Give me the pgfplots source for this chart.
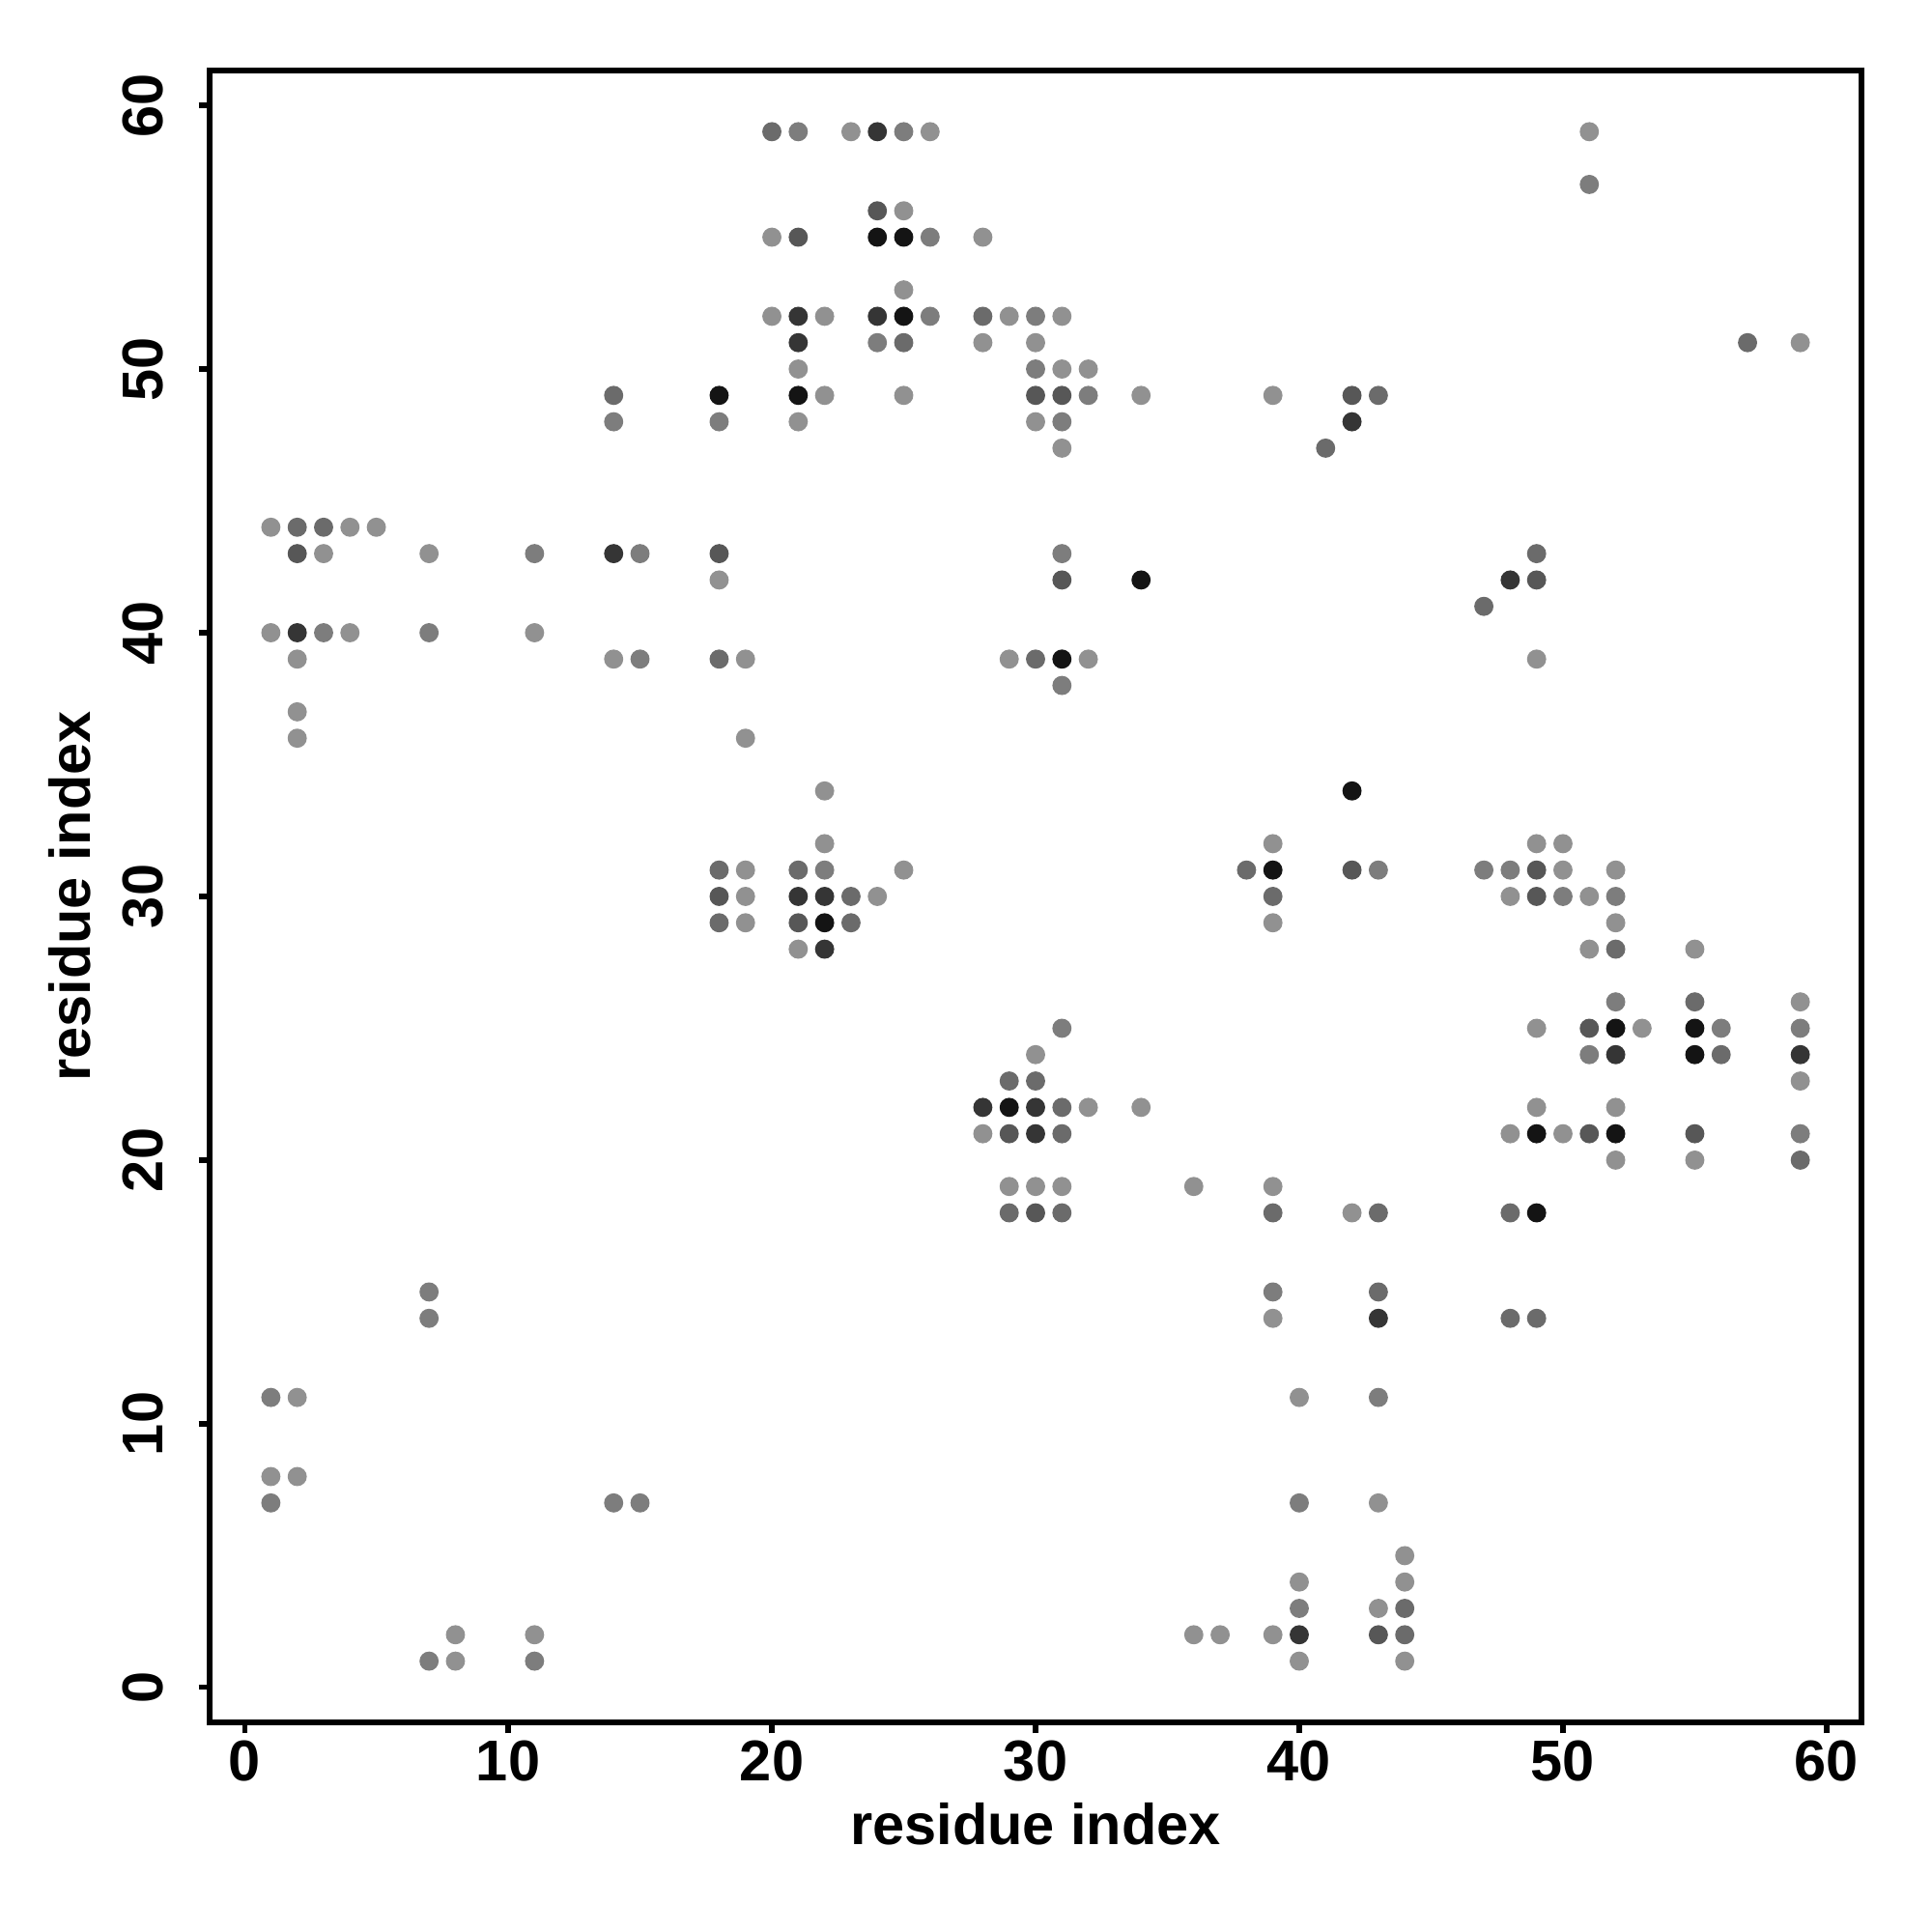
\documentclass[border=0pt]{standalone}
\usepackage{fontspec}
\setmainfont{Liberation Sans}
\usepackage{pgfplots}
\pgfplotsset{compat=1.18}
\usepackage{pgfplotstable}
\pgfplotstableread{
x y c
20 59 3
21 59 2
23 59 1
24 59 5
25 59 2
26 59 1
51 59 1
51 57 2
24 56 4
25 56 1
20 55 1
21 55 4
24 55 6
25 55 6
26 55 2
28 55 1
25 53 1
20 52 1
21 52 5
22 52 1
24 52 5
25 52 6
26 52 2
28 52 3
29 52 1
30 52 2
31 52 1
21 51 5
24 51 2
25 51 3
28 51 1
30 51 1
57 51 3
59 51 1
21 50 1
30 50 2
31 50 1
32 50 1
14 49 3
18 49 6
21 49 6
22 49 1
25 49 1
30 49 4
31 49 4
32 49 2
34 49 1
39 49 1
42 49 4
43 49 3
14 48 2
18 48 2
21 48 1
30 48 1
31 48 2
42 48 5
31 47 1
41 47 3
1 44 1
2 44 3
3 44 3
4 44 1
5 44 1
2 43 4
3 43 1
7 43 1
11 43 2
14 43 5
15 43 2
18 43 4
31 43 2
49 43 3
18 42 1
31 42 4
34 42 6
48 42 5
49 42 4
47 41 3
1 40 1
2 40 5
3 40 2
4 40 1
7 40 2
11 40 1
2 39 1
14 39 1
15 39 2
18 39 3
19 39 1
29 39 1
30 39 3
31 39 6
32 39 1
49 39 1
31 38 2
2 37 1
2 36 1
19 36 1
22 34 1
42 34 6
22 32 1
39 32 1
49 32 1
50 32 1
18 31 3
19 31 1
21 31 3
22 31 2
25 31 1
38 31 3
39 31 6
42 31 4
43 31 2
47 31 2
48 31 2
49 31 4
50 31 1
52 31 1
18 30 4
19 30 1
21 30 5
22 30 5
23 30 3
24 30 1
39 30 3
48 30 1
49 30 4
50 30 2
51 30 1
52 30 2
18 29 3
19 29 1
21 29 4
22 29 6
23 29 3
39 29 1
52 29 1
21 28 1
22 28 5
51 28 1
52 28 3
55 28 1
52 26 2
55 26 3
59 26 1
31 25 2
49 25 1
51 25 4
52 25 6
53 25 1
55 25 6
56 25 2
59 25 2
30 24 1
51 24 2
52 24 5
55 24 6
56 24 3
59 24 5
29 23 3
30 23 3
59 23 1
28 22 5
29 22 6
30 22 5
31 22 3
32 22 1
34 22 1
49 22 1
52 22 1
28 21 1
29 21 4
30 21 5
31 21 3
48 21 1
49 21 6
50 21 1
51 21 4
52 21 6
55 21 4
59 21 2
52 20 1
55 20 1
59 20 3
29 19 1
30 19 1
31 19 1
36 19 1
39 19 1
29 18 3
30 18 4
31 18 3
39 18 3
42 18 1
43 18 3
48 18 3
49 18 6
7 15 2
39 15 2
43 15 3
7 14 2
39 14 1
43 14 5
48 14 3
49 14 3
1 11 2
2 11 1
40 11 1
43 11 2
1 8 1
2 8 1
1 7 2
14 7 2
15 7 2
40 7 2
43 7 1
44 5 1
40 4 1
44 4 1
40 3 2
43 3 1
44 3 3
8 2 1
11 2 1
36 2 1
37 2 1
39 2 1
40 2 5
43 2 4
44 2 3
7 1 2
8 1 1
11 1 2
40 1 1
44 1 1
}\contacts
\begin{document}
\begin{tikzpicture}
\path[use as bounding box] (-54.7pt,-54.7pt) rectangle (449.3pt,449.3pt);
\begin{axis}[
  at={(0pt,0pt)}, anchor=south west,
  width=430.9pt, height=430.9pt, scale only axis,
  xmin=-1.32, xmax=61.32, ymin=-1.32, ymax=61.32,
  xtick={0,10,...,60}, ytick={0,10,...,60},
  tick align=outside, tick pos=left,
  major tick length=2.9pt,
  axis line style={line width=1.4pt},
  every tick/.style={line width=1.3pt, black},
  /pgf/number format/assume math mode=true,
  tick label style={font=\fontsize{15}{18}\selectfont\bfseries},
  xticklabel style={inner sep=0pt, yshift=-1.7pt},
  yticklabel style={rotate=90, anchor=south, inner sep=0pt},
  yticklabel shift=9pt,
  label style={font=\fontsize{15}{18}\selectfont\bfseries},
  xlabel={residue index}, ylabel={residue index},
  xlabel style={at={(axis description cs:0.5,-0.0615)}, anchor=center},
  ylabel style={at={(axis description cs:-0.0845,0.5)}, anchor=center},
  colormap={contact}{gray(0cm)=(0.57); gray(1cm)=(0.49); gray(2cm)=(0.42); gray(3cm)=(0.34); gray(4cm)=(0.21); gray(5cm)=(0.08)},
  point meta min=1, point meta max=6,
]
\addplot[scatter, only marks, mark=*, mark size=2.3pt, scatter src=explicit,
  scatter/use mapped color={draw=mapped color, fill=mapped color}]
  table[x=x, y=y, meta=c]{\contacts};
\end{axis}
\end{tikzpicture}
\end{document}
